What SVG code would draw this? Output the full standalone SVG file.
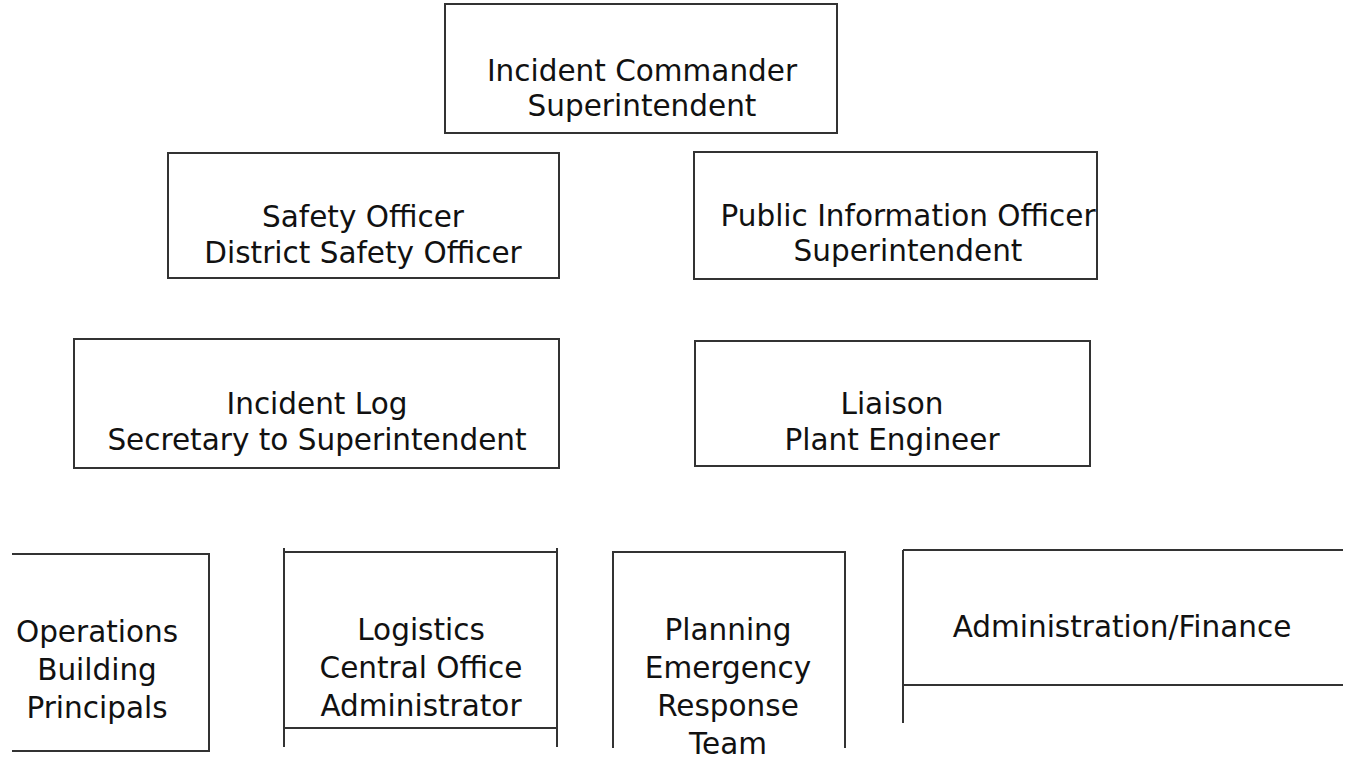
<svg xmlns="http://www.w3.org/2000/svg" width="1349" height="759" viewBox="0 0 1349 759">
<style>
.box{fill:none;stroke:#333;stroke-width:2}
.t{font-family:"DejaVu Sans","Liberation Sans",sans-serif;font-size:29.5px;fill:#111;text-anchor:middle}
</style>
<rect width="1349" height="759" fill="#fff"/>
<g id="connectors"></g>
<g id="incident-commander">
<rect class="box" x="445" y="4" width="392" height="129"/>
<text class="t" x="642" y="81">Incident Commander</text>
<text class="t" x="642" y="116">Superintendent</text>
</g>
<g id="safety-officer">
<rect class="box" x="168" y="153" width="391" height="125"/>
<text class="t" x="363" y="227">Safety Officer</text>
<text class="t" x="363" y="263">District Safety Officer</text>
</g>
<g id="public-information-officer">
<rect class="box" x="694" y="152" width="403" height="127"/>
<text class="t" x="908" y="226">Public Information Officer</text>
<text class="t" x="908" y="261">Superintendent</text>
</g>
<g id="incident-log">
<rect class="box" x="74" y="339" width="485" height="129"/>
<text class="t" x="317" y="414">Incident Log</text>
<text class="t" x="317" y="450">Secretary to Superintendent</text>
</g>
<g id="liaison">
<rect class="box" x="695" y="341" width="395" height="125"/>
<text class="t" x="892" y="414">Liaison</text>
<text class="t" x="892" y="450">Plant Engineer</text>
</g>
<g id="operations">
<path class="box" d="M12,554 H209 V751 H12"/>
<text class="t" x="97" y="642">Operations</text>
<text class="t" x="97" y="680">Building</text>
<text class="t" x="97" y="718">Principals</text>
</g>
<g id="logistics">
<path class="box" d="M284,548 V747 M557,548 V747 M284,552 H557 M284,728 H557"/>
<text class="t" x="421" y="640">Logistics</text>
<text class="t" x="421" y="678">Central Office</text>
<text class="t" x="421" y="716">Administrator</text>
</g>
<g id="planning">
<path class="box" d="M613,748 V552 H845 V748"/>
<text class="t" x="728" y="640">Planning</text>
<text class="t" x="728" y="678">Emergency</text>
<text class="t" x="728" y="716">Response</text>
<text class="t" x="728" y="754">Team</text>
</g>
<g id="administration-finance">
<path class="box" d="M903,723 V550 M903,550 H1343 M903,685 H1343"/>
<text class="t" x="1122" y="637">Administration/Finance</text>
</g>
</svg>
